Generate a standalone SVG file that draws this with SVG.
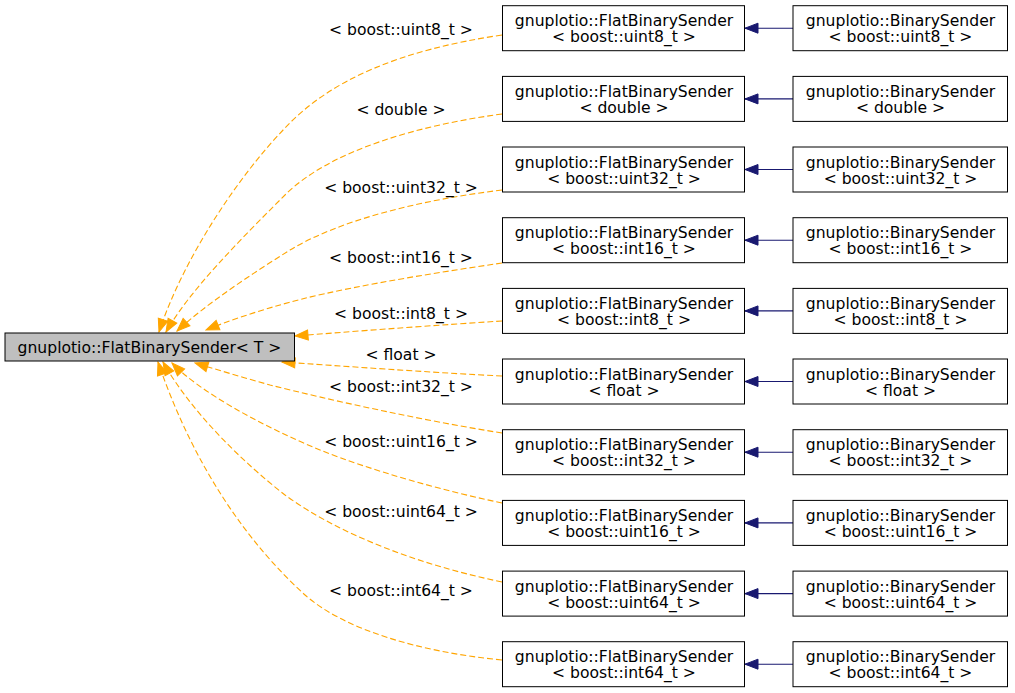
<svg xmlns="http://www.w3.org/2000/svg" width="1015" height="693" viewBox="0 0 1015 693">
<defs>
<style>
text{font-family:"DejaVu Sans","Liberation Sans",sans-serif;font-size:15.6px;fill:#000}
.c{text-anchor:middle}
.box{fill:#fff;stroke:#000;stroke-width:1}
.root{fill:#bfbfbf;stroke:#000;stroke-width:1}
.tmpl{fill:none;stroke:#ffa500;stroke-width:1.1;stroke-dasharray:6,3;marker-end:url(#oa)}
.inh{fill:none;stroke:#191970;stroke-width:1.1;marker-end:url(#ba)}
</style>
<marker id="oa" markerUnits="userSpaceOnUse" markerWidth="16" markerHeight="13" refX="13" refY="5.5" orient="auto" viewBox="-1 -1 15 13">
<path d="M0,0.5 L13,5.5 L0,10.5 z" fill="#ffa500" stroke="#ffa500" stroke-width="1"/>
</marker>
<marker id="ba" markerUnits="userSpaceOnUse" markerWidth="16" markerHeight="13" refX="13" refY="5.5" orient="auto" viewBox="-1 -1 15 13">
<path d="M0,0.5 L13,5.5 L0,10.5 z" fill="#191970" stroke="#191970" stroke-width="1"/>
</marker>
</defs>
<rect width="1015" height="693" fill="#fff"/>
<g id="connectors">
<path class="tmpl" d="M502,35 C400,50 330,80 285,128 C235,180 182,262 159,332"/>
<path class="tmpl" d="M502,114 C420,125 330,150 285,195 C240,240 190,290 166,332"/>
<path class="tmpl" d="M502,190 C420,200 340,220 290,250 C250,275 205,305 177,331"/>
<path class="tmpl" d="M502,263 C420,275 330,290 280,305 C255,312 228,321 206,330"/>
<path class="tmpl" d="M502,321 C440,325 370,330 295,336"/>
<path class="tmpl" d="M502,376 C440,373 370,368 282,362"/>
<path class="tmpl" d="M502,433 C420,420 330,400 270,385 C245,378 218,370 195,363"/>
<path class="tmpl" d="M502,503 C440,490 370,470 320,450 C260,425 200,392 172,363"/>
<path class="tmpl" d="M502,582 C420,565 340,535 285,495 C240,460 190,410 163,362"/>
<path class="tmpl" d="M502,660 C420,652 345,630 305,595 C250,545 195,470 158,362"/>
<path class="inh" d="M793,28.2 L745,28.2"/>
<path class="inh" d="M793,98.9 L745,98.9"/>
<path class="inh" d="M793,169.5 L745,169.5"/>
<path class="inh" d="M793,240.2 L745,240.2"/>
<path class="inh" d="M793,310.9 L745,310.9"/>
<path class="inh" d="M793,381.5 L745,381.5"/>
<path class="inh" d="M793,452.2 L745,452.2"/>
<path class="inh" d="M793,522.9 L745,522.9"/>
<path class="inh" d="M793,593.6 L745,593.6"/>
<path class="inh" d="M793,664.2 L745,664.2"/>
<text class="c" x="401" y="35">&lt; boost::uint8_t &gt;</text>
<text class="c" x="401" y="115">&lt; double &gt;</text>
<text class="c" x="401" y="193">&lt; boost::uint32_t &gt;</text>
<text class="c" x="401" y="263">&lt; boost::int16_t &gt;</text>
<text class="c" x="401" y="319">&lt; boost::int8_t &gt;</text>
<text class="c" x="401" y="360">&lt; float &gt;</text>
<text class="c" x="401" y="392">&lt; boost::int32_t &gt;</text>
<text class="c" x="401" y="447">&lt; boost::uint16_t &gt;</text>
<text class="c" x="401" y="517">&lt; boost::uint64_t &gt;</text>
<text class="c" x="401" y="596">&lt; boost::int64_t &gt;</text>
</g>
<g id="root">
<rect class="root" x="5" y="333" width="289.5" height="28"/>
<text class="c" x="149.5" y="352.5">gnuplotio::FlatBinarySender&lt; T &gt;</text>
</g>
<g id="flat_uint8"><rect class="box" x="502.5" y="5.7" width="242" height="45"/><text class="c" x="624" y="26.2">gnuplotio::FlatBinarySender</text><text class="c" x="624" y="42.2">&lt; boost::uint8_t &gt;</text></g>
<g id="flat_double"><rect class="box" x="502.5" y="76.4" width="242" height="45"/><text class="c" x="624" y="96.9">gnuplotio::FlatBinarySender</text><text class="c" x="624" y="112.9">&lt; double &gt;</text></g>
<g id="flat_uint32"><rect class="box" x="502.5" y="147" width="242" height="45"/><text class="c" x="624" y="167.5">gnuplotio::FlatBinarySender</text><text class="c" x="624" y="183.5">&lt; boost::uint32_t &gt;</text></g>
<g id="flat_int16"><rect class="box" x="502.5" y="217.7" width="242" height="45"/><text class="c" x="624" y="238.2">gnuplotio::FlatBinarySender</text><text class="c" x="624" y="254.2">&lt; boost::int16_t &gt;</text></g>
<g id="flat_int8"><rect class="box" x="502.5" y="288.4" width="242" height="45"/><text class="c" x="624" y="308.9">gnuplotio::FlatBinarySender</text><text class="c" x="624" y="324.9">&lt; boost::int8_t &gt;</text></g>
<g id="flat_float"><rect class="box" x="502.5" y="359" width="242" height="45"/><text class="c" x="624" y="379.5">gnuplotio::FlatBinarySender</text><text class="c" x="624" y="395.5">&lt; float &gt;</text></g>
<g id="flat_int32"><rect class="box" x="502.5" y="429.7" width="242" height="45"/><text class="c" x="624" y="450.2">gnuplotio::FlatBinarySender</text><text class="c" x="624" y="466.2">&lt; boost::int32_t &gt;</text></g>
<g id="flat_uint16"><rect class="box" x="502.5" y="500.4" width="242" height="45"/><text class="c" x="624" y="520.9">gnuplotio::FlatBinarySender</text><text class="c" x="624" y="536.9">&lt; boost::uint16_t &gt;</text></g>
<g id="flat_uint64"><rect class="box" x="502.5" y="571.1" width="242" height="45"/><text class="c" x="624" y="591.6">gnuplotio::FlatBinarySender</text><text class="c" x="624" y="607.6">&lt; boost::uint64_t &gt;</text></g>
<g id="flat_int64"><rect class="box" x="502.5" y="641.7" width="242" height="45"/><text class="c" x="624" y="662.2">gnuplotio::FlatBinarySender</text><text class="c" x="624" y="678.2">&lt; boost::int64_t &gt;</text></g>
<g id="bin_uint8"><rect class="box" x="793" y="5.7" width="214.5" height="45"/><text class="c" x="900.5" y="26.2">gnuplotio::BinarySender</text><text class="c" x="900.5" y="42.2">&lt; boost::uint8_t &gt;</text></g>
<g id="bin_double"><rect class="box" x="793" y="76.4" width="214.5" height="45"/><text class="c" x="900.5" y="96.9">gnuplotio::BinarySender</text><text class="c" x="900.5" y="112.9">&lt; double &gt;</text></g>
<g id="bin_uint32"><rect class="box" x="793" y="147" width="214.5" height="45"/><text class="c" x="900.5" y="167.5">gnuplotio::BinarySender</text><text class="c" x="900.5" y="183.5">&lt; boost::uint32_t &gt;</text></g>
<g id="bin_int16"><rect class="box" x="793" y="217.7" width="214.5" height="45"/><text class="c" x="900.5" y="238.2">gnuplotio::BinarySender</text><text class="c" x="900.5" y="254.2">&lt; boost::int16_t &gt;</text></g>
<g id="bin_int8"><rect class="box" x="793" y="288.4" width="214.5" height="45"/><text class="c" x="900.5" y="308.9">gnuplotio::BinarySender</text><text class="c" x="900.5" y="324.9">&lt; boost::int8_t &gt;</text></g>
<g id="bin_float"><rect class="box" x="793" y="359" width="214.5" height="45"/><text class="c" x="900.5" y="379.5">gnuplotio::BinarySender</text><text class="c" x="900.5" y="395.5">&lt; float &gt;</text></g>
<g id="bin_int32"><rect class="box" x="793" y="429.7" width="214.5" height="45"/><text class="c" x="900.5" y="450.2">gnuplotio::BinarySender</text><text class="c" x="900.5" y="466.2">&lt; boost::int32_t &gt;</text></g>
<g id="bin_uint16"><rect class="box" x="793" y="500.4" width="214.5" height="45"/><text class="c" x="900.5" y="520.9">gnuplotio::BinarySender</text><text class="c" x="900.5" y="536.9">&lt; boost::uint16_t &gt;</text></g>
<g id="bin_uint64"><rect class="box" x="793" y="571.1" width="214.5" height="45"/><text class="c" x="900.5" y="591.6">gnuplotio::BinarySender</text><text class="c" x="900.5" y="607.6">&lt; boost::uint64_t &gt;</text></g>
<g id="bin_int64"><rect class="box" x="793" y="641.7" width="214.5" height="45"/><text class="c" x="900.5" y="662.2">gnuplotio::BinarySender</text><text class="c" x="900.5" y="678.2">&lt; boost::int64_t &gt;</text></g>
</svg>
